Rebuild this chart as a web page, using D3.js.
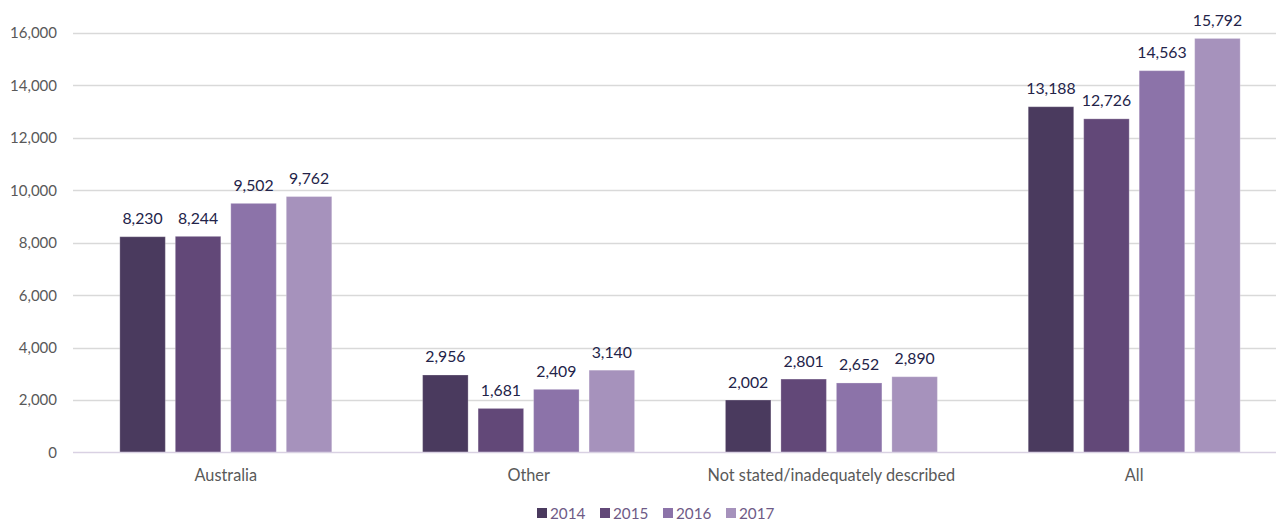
<!DOCTYPE html>
<html>
<head>
<meta charset="utf-8">
<script src="https://cdn.jsdelivr.net/npm/d3@7"></script>
<style>
  html, body { margin: 0; padding: 0; background: #fff; }
  svg { display: block; font-family: "Lato", "Open Sans", sans-serif; }
</style>
</head>
<body>
<svg id="chart" width="1276" height="520"></svg>
<script>
const categories = ["Australia", "Other", "Not stated/inadequately described", "All"];
const years = ["2014", "2015", "2016", "2017"];
const values2014 = [8230, 2956, 2002, 13188];
const values2015 = [8244, 1681, 2801, 12726];
const values2016 = [9502, 2409, 2652, 14563];
const values2017 = [9762, 3140, 2890, 15792];
const yTicks = [0, 2000, 4000, 6000, 8000, 10000, 12000, 14000, 16000];
const colors = ["#4a3a5e", "#624878", "#8c73a9", "#a692bc"];

const series = [values2014, values2015, values2016, values2017];
const data = categories.map((c, i) => ({
  category: c,
  values: years.map((y, j) => ({ year: y, value: series[j][i], idx: j }))
}));

const svg = d3.select("#chart");
const W = 1276;

const x0 = d3.scaleBand().domain(categories).range([74.4, 1285.6])
  .paddingInner(0.3).paddingOuter(0.15);
const x1 = d3.scaleBand().domain(years).range([0, x0.bandwidth()])
  .paddingInner(0.18).paddingOuter(0);
const y = d3.scaleLinear().domain([0, 16000]).range([452.5, 33]);
const fmt = d3.format(",");

// gridlines
svg.append("g").selectAll("line").data(yTicks.filter(d => d > 0)).join("line")
  .attr("x1", 73).attr("x2", W)
  .attr("y1", d => Math.round(y(d)) + 0.5).attr("y2", d => Math.round(y(d)) + 0.5)
  .attr("stroke", "#d9d9d9").attr("stroke-width", 1.3);

// y axis labels
const yAxis = d3.axisLeft(y).tickValues(yTicks).tickFormat(fmt).tickSize(0).tickPadding(0);
const gy = svg.append("g").attr("transform", "translate(57,0)").call(yAxis);
gy.select(".domain").remove();
gy.selectAll("text").attr("fill", "#595959").style("font-size", "15px")
  .style("font-family", "Lato, 'Open Sans', sans-serif");

// bars
const groups = svg.append("g").selectAll("g").data(data).join("g")
  .attr("transform", d => `translate(${x0(d.category)},0)`);
groups.selectAll("rect").data(d => d.values).join("rect")
  .attr("x", d => x1(d.year))
  .attr("width", x1.bandwidth())
  .attr("y", d => y(d.value))
  .attr("height", d => y(0) - y(d.value))
  .attr("fill", d => colors[d.idx])
  .attr("stroke", "rgba(255,255,255,0.25)").attr("stroke-width", 1);

groups.selectAll("text").data(d => d.values).join("text")
  .attr("x", d => x1(d.year) + x1.bandwidth() / 2)
  .attr("y", d => y(d.value) - 12.5)
  .attr("text-anchor", "middle")
  .attr("fill", "#232349")
  .style("font-size", "15.8px")
  .text(d => fmt(d.value));

// baseline (x axis)
const xAxis = d3.axisBottom(x0).tickSize(0).tickPadding(17);
const gx = svg.append("g").attr("transform", `translate(0,${y(0)})`).call(xAxis);
gx.select(".domain").remove();
gx.selectAll("text").attr("fill", "#595959").style("font-size", "16.3px")
  .style("font-family", "Lato, 'Open Sans', sans-serif");
svg.append("line").attr("x1", 73).attr("x2", W)
  .attr("y1", y(0)).attr("y2", y(0))
  .attr("stroke", "#d9d1e3").attr("stroke-width", 1.5);

// legend
const legend = svg.append("g").attr("transform", "translate(537,508)");
const items = legend.selectAll("g").data(years).join("g")
  .attr("transform", (d, i) => `translate(${i * 63},0)`);
items.append("rect").attr("width", 10).attr("height", 10).attr("y", 0)
  .attr("fill", (d, i) => colors[i]);
items.append("text").attr("x", 13).attr("y", 10.5)
  .attr("fill", "#6e5a86").style("font-size", "15.3px").text(d => d);
</script>
</body>
</html>
